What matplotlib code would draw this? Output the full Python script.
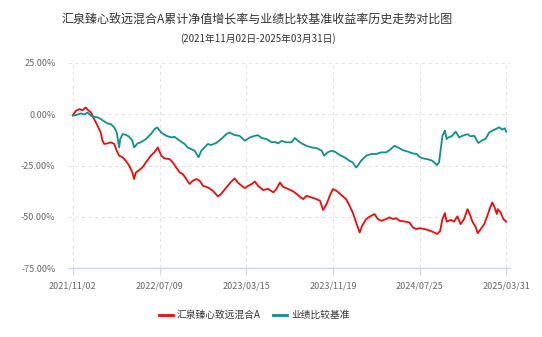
import matplotlib
matplotlib.use('Agg')
import matplotlib.pyplot as plt
from matplotlib.lines import Line2D
import datetime as dt

plt.rcParams['font.family'] = ['Noto Sans CJK SC', 'DejaVu Sans']

title = '汇泉臻心致远混合A累计净值增长率与业绩比较基准收益率历史走势对比图'
subtitle = '(2021年11月02日-2025年03月31日)'
fund_name = '汇泉臻心致远混合A'
bench_name = '业绩比较基准'
start_date = '2021-11-02'

# days since start date, cumulative return (%)
fund_days = [0, 9, 18, 28, 37, 44, 52, 61, 71, 80, 85, 90, 100, 109, 119, 126, 133, 143, 152,
             162, 171, 176, 181, 191, 200, 210, 224, 234, 244, 254, 263, 278, 287, 297, 307,
             316, 326, 335, 345, 355, 364, 374, 388, 402, 417, 426, 441, 455, 465, 474, 485,
             494, 504, 513, 523, 532, 547, 561, 576, 585, 595, 604, 619, 633, 643, 652, 662,
             671, 686, 700, 710, 719, 729, 738, 747, 757, 771, 785, 795, 804, 814, 824, 831,
             843, 852, 867, 876, 886, 900, 910, 919, 929, 939, 953, 967, 977, 986, 996, 1005,
             1019, 1033, 1047, 1055, 1062, 1069, 1074, 1086, 1095, 1105, 1114, 1124, 1134,
             1142, 1148, 1158, 1163, 1172, 1182, 1191, 1199, 1205, 1212, 1218, 1221, 1229,
             1237, 1245]
fund_vals = [-0.5, 1.7, 2.5, 2.0, 3.3, 2.0, 0.9, -2.3, -5.6, -8.9, -12.9, -14.5, -14.2, -13.7,
             -14.5, -17.8, -20.2, -21.0, -22.7, -25.1, -28.4, -31.6, -28.4, -27.2, -25.9,
             -23.5, -20.2, -18.6, -16.2, -20.2, -21.5, -21.9, -23.5, -26.0, -28.4, -29.2,
             -31.6, -34.0, -32.4, -31.6, -32.4, -34.9, -35.7, -37.3, -40.1, -38.9, -35.7,
             -32.9, -31.3, -33.3, -34.9, -36.0, -34.9, -34.1, -32.8, -34.9, -37.0, -36.4,
             -38.1, -36.4, -33.3, -35.4, -36.5, -37.6, -38.9, -40.2, -41.4, -39.8, -40.6,
             -41.4, -42.2, -46.7, -43.8, -39.8, -36.5, -37.3, -39.3, -41.4, -44.6, -47.9,
             -52.8, -57.7, -54.4, -51.1, -50.0, -48.7, -51.1, -52.0, -51.1, -50.3, -51.1,
             -50.7, -52.0, -52.3, -52.8, -55.2, -56.0, -55.6, -55.8, -56.4, -57.3, -58.4,
             -57.0, -51.1, -48.2, -52.4, -51.5, -52.4, -49.8, -53.6, -51.1, -46.3, -49.4,
             -52.4, -55.2, -58.0, -56.0, -53.6, -49.5, -45.5, -43.0, -45.5, -48.7, -46.3,
             -47.9, -51.1, -52.4]

bench_days = [0, 13, 23, 33, 42, 52, 61, 71, 80, 90, 100, 109, 119, 126, 133, 136, 143, 152,
              162, 171, 176, 186, 195, 210, 224, 235, 242, 254, 268, 283, 292, 307, 321, 330,
              340, 350, 361, 369, 378, 388, 397, 412, 426, 441, 450, 465, 479, 494, 509, 523,
              532, 542, 557, 571, 580, 590, 599, 614, 628, 638, 647, 657, 671, 686, 700, 715,
              722, 732, 743, 752, 766, 780, 795, 804, 814, 822, 828, 843, 857, 871, 886, 900,
              910, 924, 934, 948, 962, 977, 988, 996, 1005, 1019, 1033, 1046, 1052, 1057, 1062,
              1069, 1074, 1079, 1088, 1100, 1110, 1119, 1134, 1143, 1153, 1165, 1177, 1186,
              1196, 1205, 1215, 1225, 1234, 1241, 1245]
bench_vals = [-0.7, -0.2, 0.4, -0.2, 0.9, -0.7, -1.2, -1.5, -2.3, -3.5, -4.5, -4.8, -6.4,
              -8.9, -16.2, -12.1, -9.7, -10.0, -11.0, -12.9, -16.2, -14.2, -13.7, -12.1,
              -9.7, -7.2, -6.4, -8.9, -10.5, -11.3, -11.0, -12.9, -14.5, -16.2, -17.0, -17.8,
              -21.0, -17.8, -16.2, -14.5, -15.0, -14.0, -12.1, -9.7, -8.9, -10.2, -10.5,
              -12.9, -11.3, -10.5, -10.2, -11.6, -12.1, -13.7, -13.5, -14.2, -13.0, -13.7,
              -13.7, -11.6, -13.0, -14.2, -15.4, -16.2, -16.5, -17.8, -20.2, -18.6, -17.8,
              -18.2, -19.8, -21.0, -22.7, -23.5, -26.0, -24.3, -22.7, -20.2, -19.4, -19.4,
              -18.6, -18.6, -17.5, -15.4, -16.2, -17.5, -18.2, -19.1, -19.4, -20.8, -21.5,
              -21.9, -22.7, -24.8, -23.5, -17.0, -10.5, -8.0, -12.1, -11.3, -10.8, -8.5,
              -11.3, -10.5, -9.7, -10.8, -10.5, -14.0, -12.6, -12.0, -8.9, -8.0, -7.2, -6.4,
              -7.5, -6.8, -8.5]

x_tick_labels = ['2021/11/02', '2022/07/09', '2023/03/15', '2023/11/19', '2024/07/25', '2025/03/31']
y_ticks = [25, 0, -25, -50, -75]

t0 = dt.datetime.strptime(start_date, '%Y-%m-%d')
fund_x = [t0 + dt.timedelta(days=d) for d in fund_days]
bench_x = [t0 + dt.timedelta(days=d) for d in bench_days]
tick_x = [dt.datetime.strptime(s, '%Y/%m/%d') for s in x_tick_labels]

W, H = 542, 337
fig = plt.figure(figsize=(W / 100, H / 100), dpi=100)
ax = fig.add_axes([68 / W, 1 - 268 / H, (510 - 68) / W, (268 - 63) / H])

red = '#f00a0a'
teal = '#10908a'
ax.plot(fund_x, fund_vals, color=red, lw=1.3, zorder=3)
ax.plot(bench_x, bench_vals, color=teal, lw=1.3, zorder=3)

ax.set_xlim(tick_x[0] - dt.timedelta(days=14), tick_x[-1] + dt.timedelta(days=11))
ax.set_ylim(-75, 25)
ax.set_xticks(tick_x)
ax.set_xticklabels(x_tick_labels)
ax.set_yticks(y_ticks)
ax.set_yticklabels(['%.2f%%' % v for v in y_ticks])

grid_c = '#e3e3e3'
for v in y_ticks[:-1]:
    ax.axhline(v, color=grid_c, lw=0.8, ls=(0, (3, 3)), zorder=1)
for t in tick_x:
    ax.axvline(t, color=grid_c, lw=0.8, ls=(0, (3, 3)), zorder=1)

for s in ['top', 'right', 'left']:
    ax.spines[s].set_visible(False)
ax.spines['bottom'].set_color('#ccd6eb')
ax.spines['bottom'].set_linewidth(1.0)
ax.tick_params(axis='x', length=5, color='#ccd6eb', labelsize=6.5, labelcolor='#666666', pad=5)
ax.tick_params(axis='y', length=0, labelsize=6.5, labelcolor='#666666', pad=9)

fig.text(257 / W, 1 - 20 / H, title, ha='center', va='center', fontsize=8.65, color='#333333')
fig.text(258 / W, 1 - 39 / H, subtitle, ha='center', va='center', fontsize=7, color='#333333')

handles = [Line2D([], [], color=red, lw=2), Line2D([], [], color=teal, lw=2)]
fig.legend(handles, [fund_name, bench_name], loc='center', bbox_to_anchor=(254 / W, 1 - 315 / H),
           ncol=2, frameon=False, fontsize=7, handlelength=1.5, handletextpad=0.4,
           columnspacing=1.2, labelcolor='#333333')

fig.savefig('out.png', dpi=100)
